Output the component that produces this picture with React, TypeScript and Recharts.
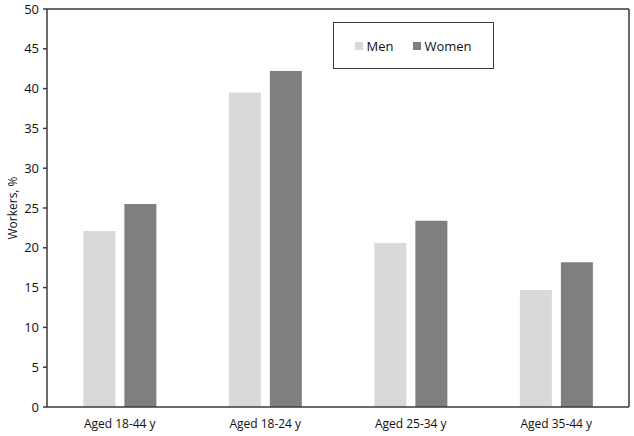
import { BarChart, Bar, XAxis, YAxis } from "recharts";

const categories = ["Aged 18-44 y", "Aged 18-24 y", "Aged 25-34 y", "Aged 35-44 y"];
const men = [22.1, 39.5, 20.6, 14.7];
const women = [25.5, 42.2, 23.4, 18.2];
const yTicks = [0, 5, 10, 15, 20, 25, 30, 35, 40, 45, 50];
const seriesNames = ["Men", "Women"];
const seriesColors = ["#d9d9d9", "#7f7f7f"];

const data = categories.map((name, i) => ({ name, Men: men[i], Women: women[i] }));

const font = "'Open Sans', 'Liberation Sans', sans-serif";
const axisColor = "#3a3a3a";

// legend drawn as an overlay so it doesn't take room from the plot
const LegendBox = () => (
  <div
    style={{
      position: "absolute",
      left: 333,
      top: 22,
      boxSizing: "border-box",
      width: 161,
      height: 47,
      border: `1.5px solid ${axisColor}`,
      background: "#fff",
      display: "flex",
      alignItems: "center",
      justifyContent: "center",
      gap: 20,
      fontFamily: font,
      fontSize: 13,
      color: "#111",
    }}
  >
    {seriesNames.map((s, i) => (
      <span key={s} style={{ display: "flex", alignItems: "center" }}>
        <span style={{ width: 8, height: 8, background: seriesColors[i], marginRight: 3 }} />
        {s}
      </span>
    ))}
  </div>
);

export default function App() {
  return (
    <div style={{ position: "absolute", left: 0, top: 0, width: 634, height: 436, background: "#fff" }}>
      <BarChart
        width={634}
        height={436}
        data={data}
        margin={{ top: 8, right: 4, bottom: 0, left: 0 }}
        barCategoryGap="25%"
        barGap={9}
      >
        <XAxis
          dataKey="name"
          height={29}
          tickLine={false}
          tickSize={0}
          tickMargin={12}
          stroke={axisColor}
          strokeWidth={1.5}
          tick={{ fill: "#111", fontSize: 12, fontFamily: font }}
        />
        <XAxis
          xAxisId="top"
          dataKey="name"
          orientation="top"
          height={1}
          tick={false}
          tickLine={false}
          stroke={axisColor}
          strokeWidth={1.5}
        />
        <YAxis
          width={47}
          domain={[0, 50]}
          ticks={yTicks}
          interval={0}
          tickSize={4}
          tickMargin={4}
          stroke={axisColor}
          strokeWidth={1.5}
          tick={{ fill: "#111", fontSize: 13, fontFamily: font }}
          label={{
            value: "Workers, %",
            angle: -90,
            position: "center",
            dx: -11,
            style: { fill: "#111", fontSize: 12, fontFamily: font },
          }}
        />
        <YAxis
          yAxisId="right"
          orientation="right"
          width={1}
          domain={[0, 50]}
          tick={false}
          tickLine={false}
          stroke={axisColor}
          strokeWidth={1.5}
        />
        {seriesNames.map((s, i) => (
          <Bar key={s} dataKey={s} fill={seriesColors[i]} isAnimationActive={false} />
        ))}
      </BarChart>
      <LegendBox />
    </div>
  );
}
